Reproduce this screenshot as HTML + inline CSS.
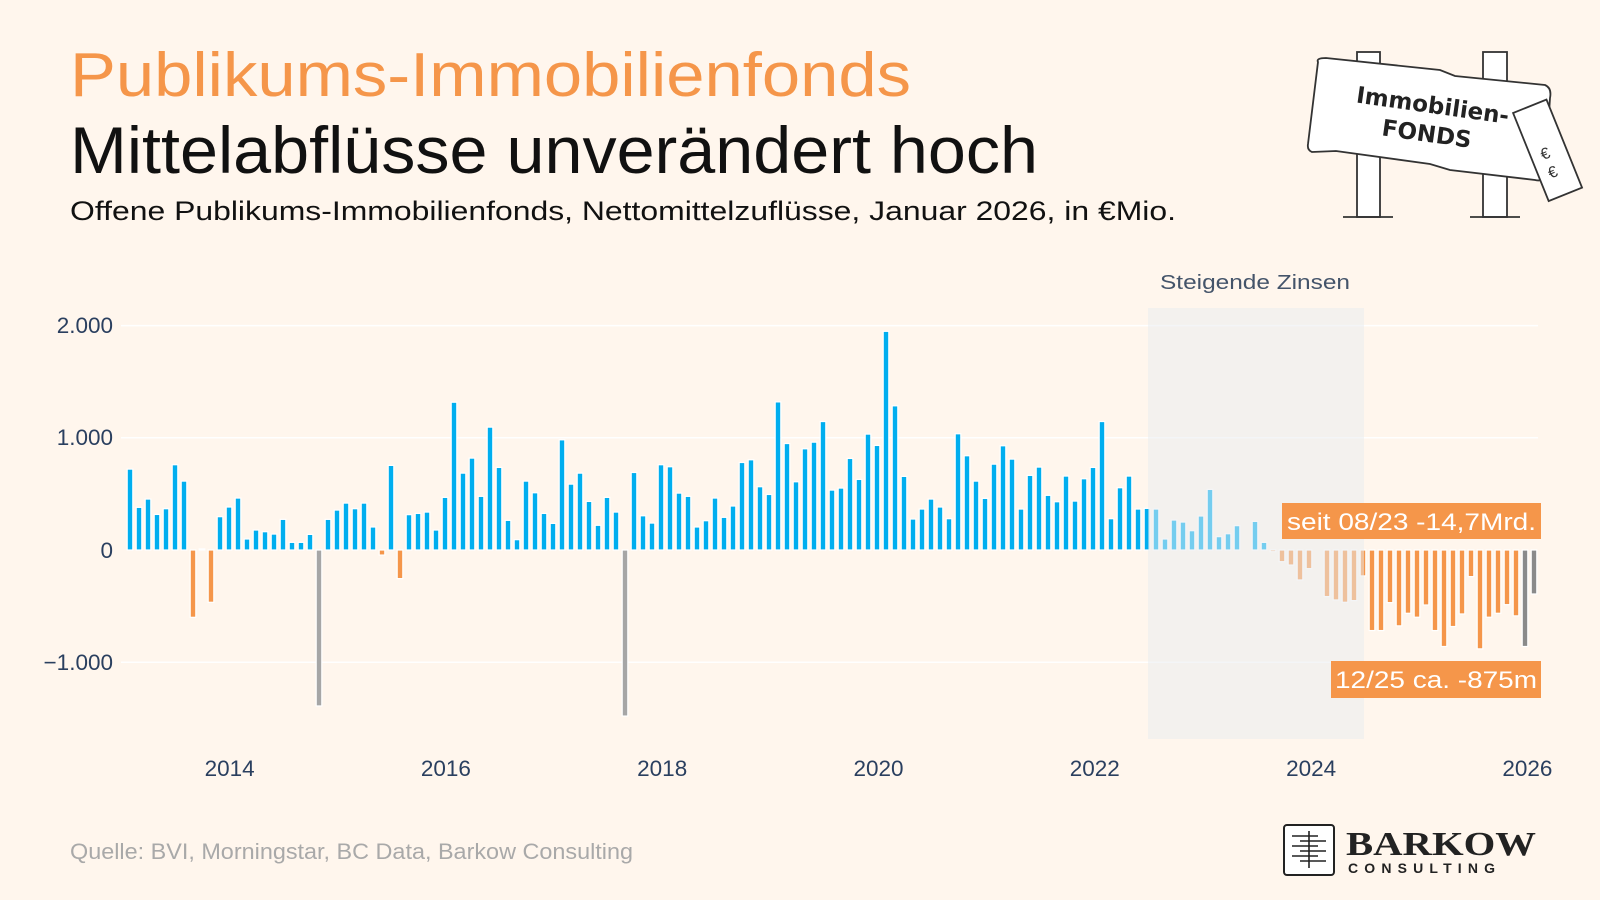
<!DOCTYPE html>
<html><head><meta charset="utf-8"><style>
html,body{margin:0;padding:0;background:#fff6ed;}
svg{display:block;font-family:"Liberation Sans",sans-serif;}
</style></head><body>
<svg id="s" width="1600" height="900" viewBox="0 0 1600 900" xmlns="http://www.w3.org/2000/svg">
<rect width="1600" height="900" fill="#fff6ed"/>
<text x="70" y="96" font-size="62" fill="#f5964a" textLength="841" lengthAdjust="spacingAndGlyphs">Publikums-Immobilienfonds</text>
<text x="70" y="173" font-size="66" fill="#111" textLength="968" lengthAdjust="spacingAndGlyphs">Mittelabflüsse unverändert hoch</text>
<text x="70" y="220" font-size="27" fill="#111" textLength="1106" lengthAdjust="spacingAndGlyphs">Offene Publikums-Immobilienfonds, Nettomittelzuflüsse, Januar 2026, in €Mio.</text>
<text x="1255" y="289" font-size="20" fill="#44546a" text-anchor="middle" textLength="190" lengthAdjust="spacingAndGlyphs">Steigende Zinsen</text>
<g id="grid" stroke="#ffffff" stroke-width="1.5">
<line x1="121" x2="1538" y1="325.6" y2="325.6"/>
<line x1="121" x2="1538" y1="437.8" y2="437.8"/>
<line x1="121" x2="1538" y1="662.2" y2="662.2"/>
</g>
<g font-size="22.5" fill="#2a3f5f" text-anchor="end">
<text x="113" y="333">2.000</text>
<text x="113" y="445">1.000</text>
<text x="113" y="558">0</text>
<text x="113" y="670">−1.000</text>
</g>
<g font-size="22.5" fill="#2a3f5f" text-anchor="middle">
<text x="229.6" y="776">2014</text>
<text x="445.9" y="776">2016</text>
<text x="662.2" y="776">2018</text>
<text x="878.5" y="776">2020</text>
<text x="1094.8" y="776">2022</text>
<text x="1311.1" y="776">2024</text>
<text x="1527.4" y="776">2026</text>
</g>
<g id="bars"></g>
<rect x="1148" y="308" width="216" height="431" fill="#e8ecf0" fill-opacity="0.5"/>
<rect x="1282" y="503" width="259" height="36" fill="#f5964a"/>
<text x="1287" y="530" font-size="24" fill="#fff" textLength="249" lengthAdjust="spacingAndGlyphs">seit 08/23 -14,7Mrd.</text>
<rect x="1331" y="661" width="210" height="37" fill="#f5964a"/>
<text x="1335" y="688" font-size="24" fill="#fff" textLength="202" lengthAdjust="spacingAndGlyphs">12/25 ca. -875m</text>
<text x="70" y="859" font-size="22" fill="#a9a9a9" textLength="563" lengthAdjust="spacingAndGlyphs">Quelle: BVI, Morningstar, BC Data, Barkow Consulting</text>
<rect x="1284" y="825" width="50" height="50" rx="3" fill="#fff" stroke="#222" stroke-width="2"/>
<g stroke="#222" stroke-width="1.6">
<line x1="1292" y1="836" x2="1318" y2="836"/><line x1="1300" y1="841" x2="1326" y2="841"/>
<line x1="1292" y1="846" x2="1318" y2="846"/><line x1="1300" y1="851" x2="1326" y2="851"/>
<line x1="1292" y1="856" x2="1318" y2="856"/><line x1="1300" y1="861" x2="1326" y2="861"/>
<line x1="1309" y1="831" x2="1309" y2="868"/>
</g>
<text x="1346" y="855" font-family="Liberation Serif,serif" font-weight="bold" font-size="34" fill="#222" textLength="190" lengthAdjust="spacingAndGlyphs">BARKOW</text>
<text x="1348" y="873" font-size="14" font-weight="bold" fill="#222" letter-spacing="5" textLength="152" lengthAdjust="spacing">CONSULTING</text>
<g stroke="#333" stroke-width="1.8" fill="#fff">
<rect x="1357" y="52" width="23" height="165"/>
<rect x="1483" y="52" width="24" height="165"/>
<line x1="1343" y1="217" x2="1393" y2="217"/>
<line x1="1470" y1="217" x2="1520" y2="217"/>
<path d="M1318,62 Q1316,58 1326,58 L1440,70 L1455,76 L1545,85 Q1552,88 1550,98 L1545,175 Q1544,182 1535,180 L1450,170 L1430,164 L1336,151 L1312,152 Q1307,150 1308,144 Z"/>
<g transform="rotate(-22 1555 150)"><rect x="1530" y="100" width="36" height="95" /></g>
</g>
<g transform="rotate(8 1430 125)" font-family="DejaVu Sans,sans-serif" font-weight="bold" fill="#222">
<text x="1430" y="113" font-size="23" text-anchor="middle">Immobilien-</text>
<text x="1428" y="142" font-size="23" text-anchor="middle">FONDS</text>
</g>
<g font-size="16" fill="#333" transform="rotate(-22 1555 150)"><text x="1540" y="155">€</text><text x="1540" y="175">€</text></g>
</svg>
<script>
(function(){
var v=[721,380,454,317,368,760,614,-600,10,-466,297,383,463,98,178,163,142,273,68,68,139,-1390,273,356,418,368,418,205,-45,754,-255,315,326,338,178,469,1317,685,819,478,1095,736,264,92,614,510,326,237,982,587,685,433,220,469,338,-1480,691,305,240,760,742,507,478,205,261,463,291,392,780,804,564,495,1320,949,608,902,961,1145,534,552,816,629,1033,932,1949,1285,656,276,365,454,383,279,1036,840,614,460,765,929,810,365,665,739,487,430,659,436,635,736,1145,279,555,659,365,371,365,98,267,249,172,303,540,119,145,217,0,255,68,-15,-104,-134,-267,-166,0,-415,-445,-466,-451,-231,-718,-718,-469,-676,-564,-599,-490,-718,-860,-682,-570,-237,-881,-599,-564,-487,-587,-860,-392];
var g=document.getElementById('bars'),ns="http://www.w3.org/2000/svg";
for(var i=0;i<v.length;i++){var x=130+i*9,val=v[i];if(val==0)continue;
var c=val>0?'#00aeef':'#f5964a';if(i==21||i==55)c='#a6a6a6';if(i>=155)c='#8a8a8a';
var y1=550-val*0.1122;var yt=Math.min(550,y1),hh=Math.abs(y1-550);
var r=document.createElementNS(ns,'rect');
r.setAttribute('x',x-2.8);r.setAttribute('y',yt);r.setAttribute('width',5.6);r.setAttribute('height',hh);
r.setAttribute('fill',c);r.setAttribute('stroke','#fff');r.setAttribute('stroke-width',1.2);
g.appendChild(r);}
})();
</script>
</body></html>
